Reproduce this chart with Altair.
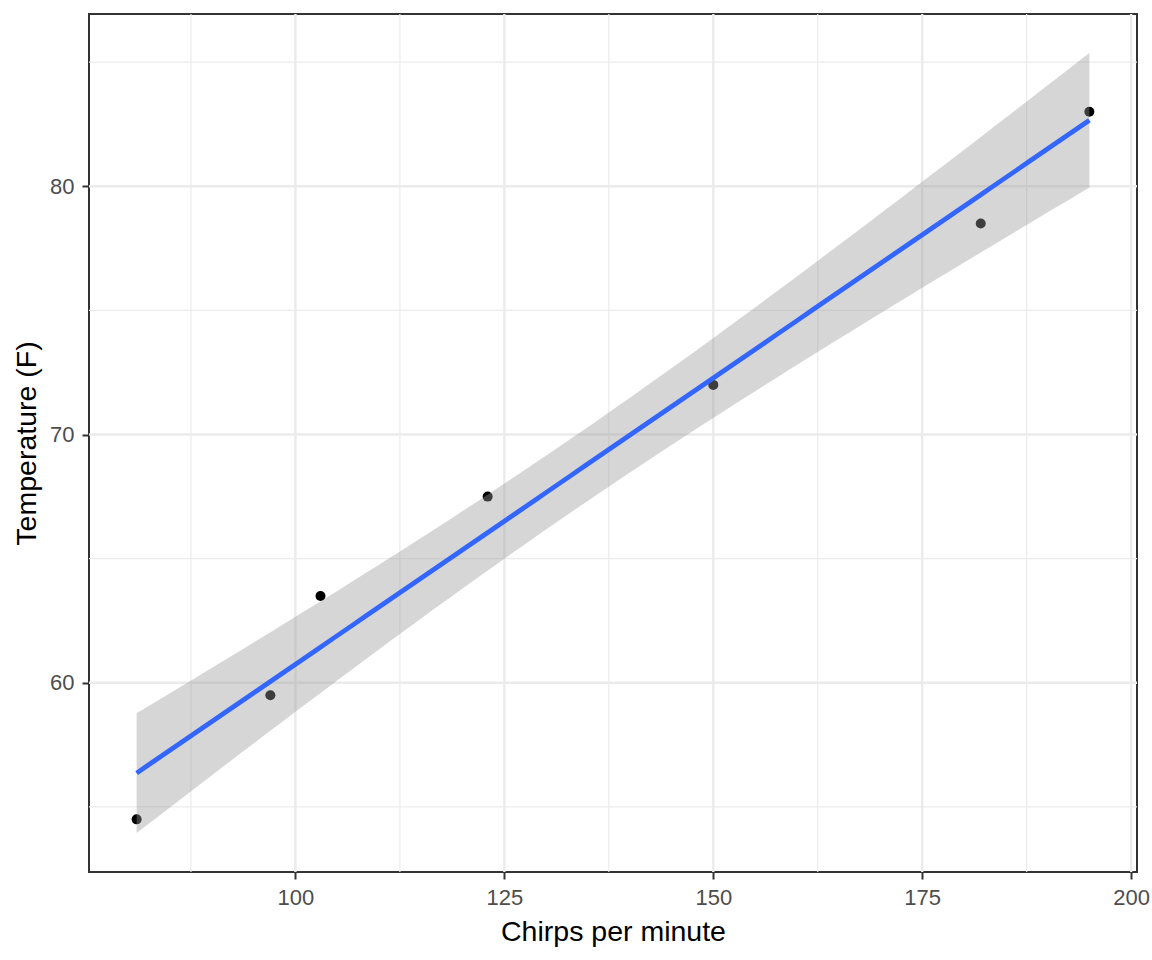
import altair as alt
import numpy as np
import pandas as pd

# Data
chirps = [81, 97, 103, 123, 150, 182, 195]
temp_f = [54.5, 59.5, 63.5, 67.5, 72.0, 78.5, 83.0]

x_major = [100, 125, 150, 175, 200]
x_minor = [87.5, 112.5, 137.5, 162.5, 187.5]
y_major = [60, 70, 80]
y_minor = [55, 65, 75, 85]

# Linear model fit with 95% confidence band (as geom_smooth(method="lm"))
xa = np.array(chirps, dtype=float)
ya = np.array(temp_f, dtype=float)
n = len(xa)
xbar, ybar = xa.mean(), ya.mean()
sxx = ((xa - xbar) ** 2).sum()
b1 = ((xa - xbar) * (ya - ybar)).sum() / sxx
b0 = ybar - b1 * xbar
s = np.sqrt(((ya - (b0 + b1 * xa)) ** 2).sum() / (n - 2))
tq = 2.570582  # t(0.975, df=5)
xs = np.linspace(xa.min(), xa.max(), 80)
fit = b0 + b1 * xs
se = s * np.sqrt(1 / n + (xs - xbar) ** 2 / sxx)
band = pd.DataFrame({"x": xs, "fit": fit, "lo": fit - tq * se, "hi": fit + tq * se})

pts = pd.DataFrame({"x": chirps, "y": temp_f})

xr = xa.max() - xa.min()
x_dom = [xa.min() - 0.05 * xr, xa.max() + 0.05 * xr]
ylo = min(band["lo"].min(), ya.min())
yhi = max(band["hi"].max(), ya.max())
yr = yhi - ylo
y_dom = [ylo - 0.05 * yr, yhi + 0.05 * yr]

FONT = "Liberation Sans"
xs_scale = alt.Scale(domain=x_dom, nice=False, zero=False)
ys_scale = alt.Scale(domain=y_dom, nice=False, zero=False)

x_axis = alt.Axis(
    values=x_major, grid=False, domain=False, title="Chirps per minute",
    labelFontSize=22, labelColor="#4D4D4D", labelFont=FONT, labelPadding=8,
    tickColor="#333333", tickWidth=2, tickSize=7,
    titleFont=FONT, titleFontSize=28.5, titleFontWeight="normal", titleColor="black",
    titleY=68, titleBaseline="alphabetic",
)
y_axis = alt.Axis(
    values=y_major, grid=False, domain=False, title="Temperature (F)",
    labelFontSize=22, labelColor="#4D4D4D", labelFont=FONT, labelPadding=8,
    tickColor="#333333", tickWidth=2, tickSize=7,
    titleFont=FONT, titleFontSize=28.5, titleFontWeight="normal", titleColor="black",
    titleX=-54, titleY=429, titleBaseline="alphabetic", titleAngle=-90,
)

def X(field):
    return alt.X(f"{field}:Q", scale=xs_scale, axis=x_axis)

def Y(field):
    return alt.Y(f"{field}:Q", scale=ys_scale, axis=y_axis)

grid_color = "#EBEBEB"
gx_minor = alt.Chart(pd.DataFrame({"v": x_minor})).mark_rule(color=grid_color, strokeWidth=1.2).encode(x=X("v"))
gy_minor = alt.Chart(pd.DataFrame({"v": y_minor})).mark_rule(color=grid_color, strokeWidth=1.2).encode(y=Y("v"))
gx_major = alt.Chart(pd.DataFrame({"v": x_major})).mark_rule(color=grid_color, strokeWidth=2.4).encode(x=X("v"))
gy_major = alt.Chart(pd.DataFrame({"v": y_major})).mark_rule(color=grid_color, strokeWidth=2.4).encode(y=Y("v"))

points = alt.Chart(pts).mark_circle(size=100, color="black", opacity=1).encode(x=X("x"), y=Y("y"))

ribbon = alt.Chart(band).mark_area(color="#999999", opacity=0.4).encode(
    x=X("x"), y=Y("lo"), y2="hi:Q"
)
line = alt.Chart(band).mark_line(color="#3366FF", strokeWidth=4.8).encode(x=X("x"), y=Y("fit"))

chart = alt.layer(gx_minor, gy_minor, gx_major, gy_major, points, ribbon, line).properties(
    width=1048, height=858,
    background="white",
    autosize=alt.AutoSizeParams(type="none"),
    padding={"left": 89, "top": 14, "right": 15, "bottom": 88},
).configure_view(stroke="#333333", strokeWidth=2)

chart.save("out.html", embed_options={"renderer": "svg", "actions": False})
